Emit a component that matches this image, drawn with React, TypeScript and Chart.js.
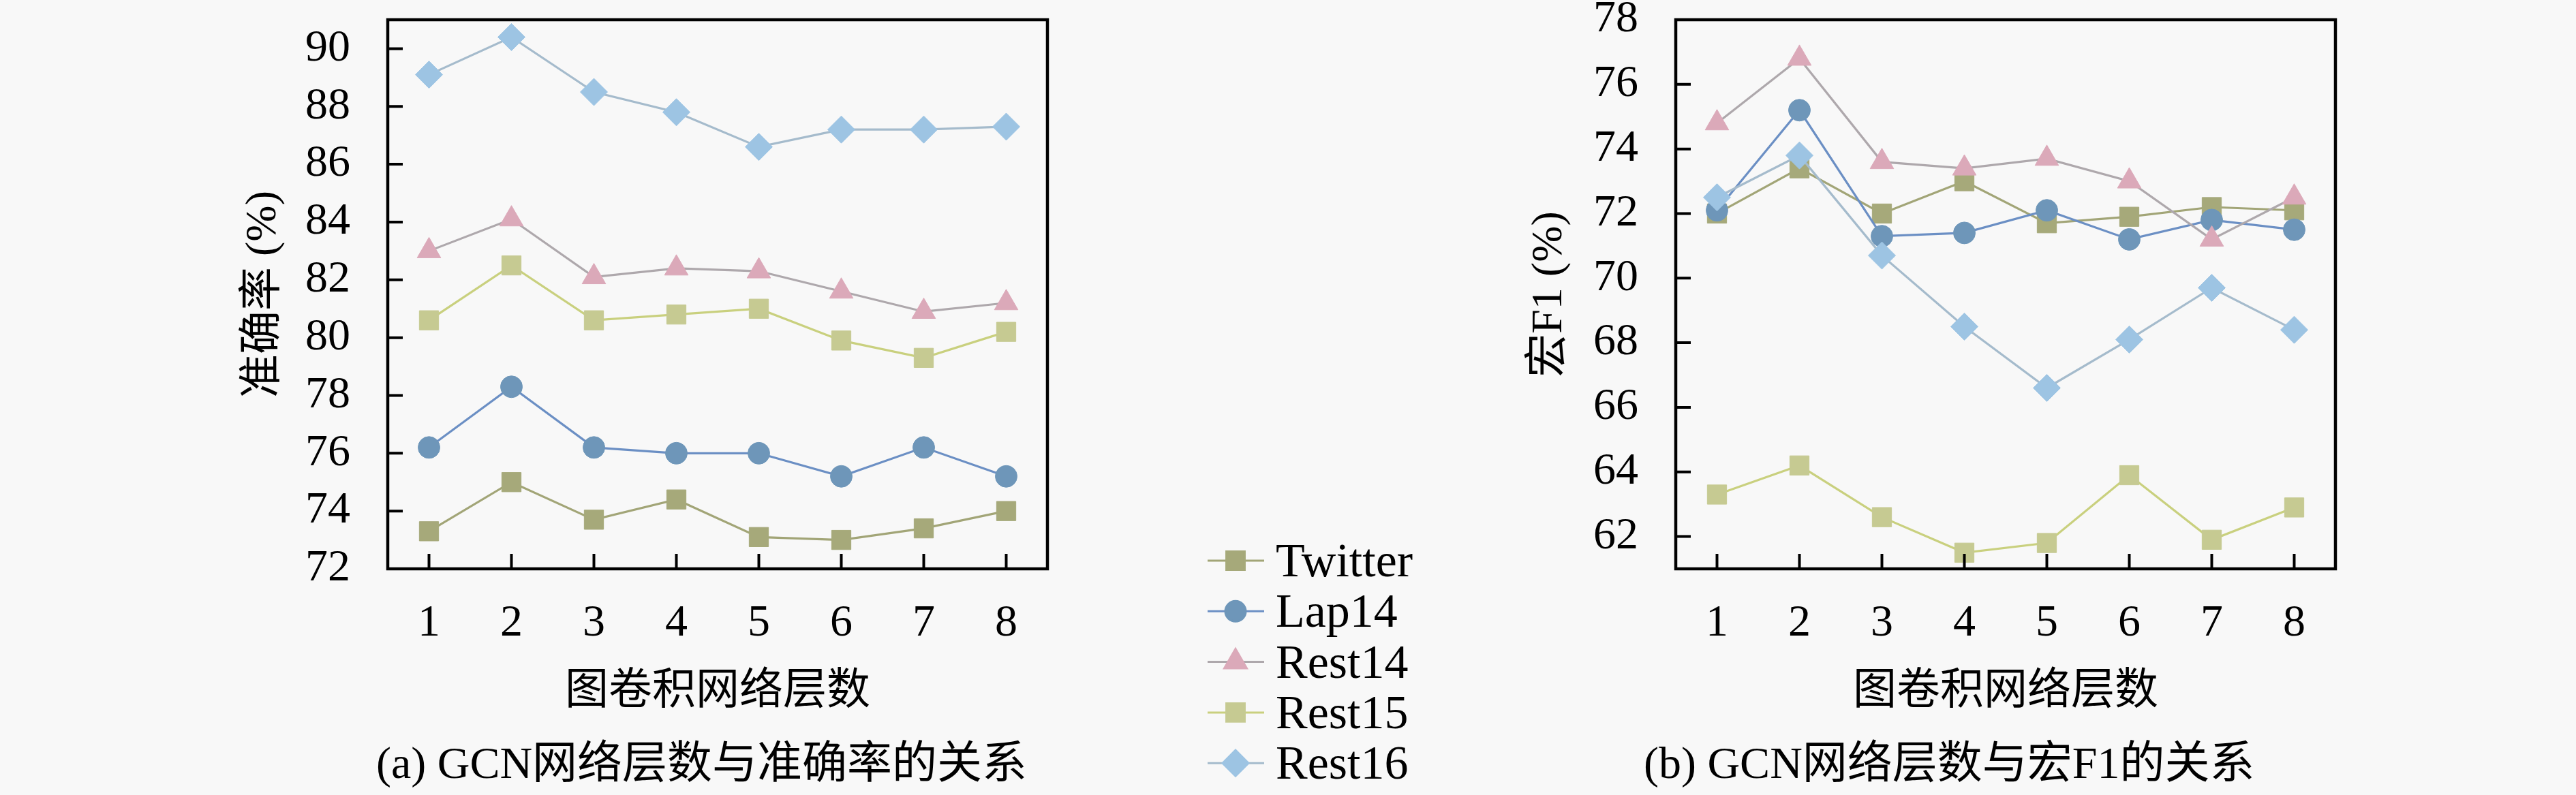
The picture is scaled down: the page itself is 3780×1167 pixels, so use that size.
import React, { useEffect, useRef } from "react";
import { Chart, registerables } from "chart.js";
import { drawPoint } from "chart.js/helpers";

Chart.register(...registerables);

// ---------------- data ----------------
const layers = [1, 2, 3, 4, 5, 6, 7, 8];
const seriesNames = ["Twitter", "Lap14", "Rest14", "Rest15", "Rest16"];

const accTwitter = [73.3, 75.0, 73.7, 74.4, 73.1, 73.0, 73.4, 74.0];
const accLap14 = [76.2, 78.3, 76.2, 76.0, 76.0, 75.2, 76.2, 75.2];
const accRest14 = [83.0, 84.1, 82.1, 82.4, 82.3, 81.6, 80.9, 81.2];
const accRest15 = [80.6, 82.5, 80.6, 80.8, 81.0, 79.9, 79.3, 80.2];
const accRest16 = [89.1, 90.4, 88.5, 87.8, 86.6, 87.2, 87.2, 87.3];

const f1Twitter = [72.0, 73.4, 72.0, 73.0, 71.7, 71.9, 72.2, 72.1];
const f1Lap14 = [72.1, 75.2, 71.3, 71.4, 72.1, 71.2, 71.8, 71.5];
const f1Rest14 = [74.8, 76.8, 73.6, 73.4, 73.7, 73.0, 71.2, 72.5];
const f1Rest15 = [63.3, 64.2, 62.6, 61.5, 61.8, 63.9, 61.9, 62.9];
const f1Rest16 = [72.5, 73.8, 70.7, 68.5, 66.6, 68.1, 69.7, 68.4];

const accTicks = [72, 74, 76, 78, 80, 82, 84, 86, 88, 90];
const f1Ticks = [62, 64, 66, 68, 70, 72, 74, 76, 78];

const xTitle = "图卷积网络层数";
const accTitle = "准确率 (%)";
const f1Title = "宏F1 (%)";
const captionA = "(a) GCN网络层数与准确率的关系";
const captionB = "(b) GCN网络层数与宏F1的关系";

// ---------------- styles ----------------
const W = 3780;
const H = 1167;
const BG = "#f8f8f8";
const FONT = '"Liberation Serif", "Noto Sans CJK SC", serif';

const lineColors = ["#a2a577", "#6b8fc4", "#aea8ac", "#c9d07e", "#a5bbcc"];
const markerColors = ["#a6a97a", "#6e96b9", "#dba9b9", "#c6ca92", "#9dc4e3"];
const markerStyles = ["rect", "circle", "triangle", "rect", "rectRot"];
const markerRadii = [20, 16, 20, 20, 20];

type Panel = {
  values: number[][];
  yMin: number;
  yMax: number;
  yTicks: number[];
  yTitle: string;
  padLeft: number;
  padRight: number;
  yWidth: number;
  yTitlePad: number;
  caption: string;
  captionX: number;
  withLegend: boolean;
};

function framePlugin() {
  return {
    id: "frame",
    afterDraw(chart: any) {
      const { ctx, chartArea, scales } = chart;
      const { left, right, top, bottom } = chartArea;
      ctx.save();
      ctx.strokeStyle = "#000";
      ctx.lineWidth = 4.5;
      ctx.strokeRect(left, top, right - left, bottom - top);
      ctx.lineWidth = 4;
      ctx.beginPath();
      for (const t of scales.y.ticks) {
        const y = scales.y.getPixelForValue(t.value);
        ctx.moveTo(left, y);
        ctx.lineTo(left + 22, y);
      }
      for (const t of scales.x.ticks) {
        const x = scales.x.getPixelForValue(t.value);
        ctx.moveTo(x, bottom);
        ctx.lineTo(x, bottom - 22);
      }
      ctx.stroke();
      ctx.restore();
    },
  };
}

function captionPlugin(text: string, x: number) {
  return {
    id: "caption",
    afterDraw(chart: any) {
      const { ctx } = chart;
      ctx.save();
      ctx.fillStyle = "#000";
      ctx.font = `66px ${FONT}`;
      ctx.textAlign = "left";
      ctx.textBaseline = "middle";
      ctx.fillText(text, x, 1125);
      ctx.restore();
    },
  };
}

function legendPlugin() {
  return {
    id: "customLegend",
    afterDraw(chart: any) {
      const { ctx } = chart;
      const rowY0 = 823;
      const rowStep = 74.3;
      ctx.save();
      seriesNames.forEach((name, i) => {
        const y = rowY0 + i * rowStep;
        ctx.strokeStyle = lineColors[i];
        ctx.lineWidth = 3;
        ctx.beginPath();
        ctx.moveTo(1772, y);
        ctx.lineTo(1855, y);
        ctx.stroke();
        ctx.fillStyle = markerColors[i];
        ctx.strokeStyle = markerColors[i];
        drawPoint(ctx, { pointStyle: markerStyles[i] as any, rotation: 0, radius: markerRadii[i] - 1, borderWidth: 1 }, 1813, y);
        ctx.fillStyle = "#000";
        ctx.font = `70px ${FONT}`;
        ctx.textAlign = "left";
        ctx.textBaseline = "alphabetic";
        ctx.fillText(name, 1872, y + 23);
      });
      ctx.restore();
    },
  };
}

function makeConfig(p: Panel): any {
  const plugins: any[] = [framePlugin(), captionPlugin(p.caption, p.captionX)];
  if (p.withLegend) plugins.push(legendPlugin());
  return {
    type: "line",
    data: {
      datasets: seriesNames.map((name, i) => ({
        label: name,
        data: layers.map((x, j) => ({ x, y: p.values[i][j] })),
        borderColor: lineColors[i],
        borderWidth: 3.2,
        pointStyle: markerStyles[i],
        pointRadius: markerRadii[i],
        pointHoverRadius: markerRadii[i],
        pointBackgroundColor: markerColors[i],
        pointBorderColor: markerColors[i],
        pointBorderWidth: 1,
        tension: 0,
        fill: false,
        order: seriesNames.length - i,
      })),
    },
    options: {
      responsive: false,
      animation: false,
      events: [],
      layout: { padding: { left: p.padLeft, right: p.padRight, top: 29, bottom: 0 } },
      plugins: {
        legend: { display: false },
        tooltip: { enabled: false },
        title: { display: false },
      },
      scales: {
        x: {
          type: "linear",
          min: 0.5,
          max: 8.5,
          grid: { display: false },
          border: { display: false },
          afterBuildTicks: (s: any) => {
            s.ticks = layers.map((v) => ({ value: v }));
          },
          afterFit: (s: any) => {
            s.height = 332;
            s.paddingLeft = 0;
            s.paddingRight = 0;
          },
          ticks: {
            color: "#000",
            font: { family: FONT, size: 66, lineHeight: 1.2 },
            padding: 33,
            maxRotation: 0,
            autoSkip: false,
          },
          title: {
            display: true,
            text: xTitle,
            color: "#000",
            font: { family: FONT, size: 64, lineHeight: 1.2 },
            padding: { top: 0, bottom: 112 },
          },
        },
        y: {
          type: "linear",
          min: p.yMin,
          max: p.yMax,
          grid: { display: false },
          border: { display: false },
          afterBuildTicks: (s: any) => {
            s.ticks = p.yTicks.map((v) => ({ value: v }));
          },
          afterFit: (s: any) => {
            s.width = p.yWidth;
            s.paddingTop = 0;
            s.paddingBottom = 0;
          },
          ticks: {
            color: "#000",
            font: { family: FONT, size: 66, lineHeight: 1.0 },
            padding: 47,
            autoSkip: false,
          },
          title: {
            display: true,
            text: p.yTitle,
            color: "#000",
            font: { family: FONT, size: 64, lineHeight: 1.2 },
            padding: { top: p.yTitlePad, bottom: 0 },
          },
        },
      },
    },
    plugins,
  };
}

const leftPanel: Panel = {
  values: [accTwitter, accLap14, accRest14, accRest15, accRest16],
  yMin: 72,
  yMax: 91,
  yTicks: accTicks,
  yTitle: accTitle,
  padLeft: 0,
  padRight: W - 1537,
  yWidth: 569,
  yTitlePad: 349,
  caption: captionA,
  captionX: 552,
  withLegend: true,
};

const rightPanel: Panel = {
  values: [f1Twitter, f1Lap14, f1Rest14, f1Rest15, f1Rest16],
  yMin: 61,
  yMax: 78,
  yTicks: f1Ticks,
  yTitle: f1Title,
  padLeft: 2150,
  padRight: W - 3427,
  yWidth: 309,
  yTitlePad: 86,
  caption: captionB,
  captionX: 2412,
  withLegend: false,
};

export default function App() {
  const leftRef = useRef<HTMLCanvasElement>(null);
  const rightRef = useRef<HTMLCanvasElement>(null);

  useEffect(() => {
    document.body.style.margin = "0";
    document.body.style.background = BG;
    const c1 = new Chart(leftRef.current as HTMLCanvasElement, makeConfig(leftPanel));
    const c2 = new Chart(rightRef.current as HTMLCanvasElement, makeConfig(rightPanel));
    return () => {
      c1.destroy();
      c2.destroy();
    };
  }, []);

  return (
    <div style={{ position: "relative", width: W, height: H, background: BG, overflow: "hidden" }}>
      <canvas ref={leftRef} width={W} height={H} style={{ position: "absolute", left: 0, top: 0 }} />
      <canvas ref={rightRef} width={W} height={H} style={{ position: "absolute", left: 0, top: 0 }} />
    </div>
  );
}
